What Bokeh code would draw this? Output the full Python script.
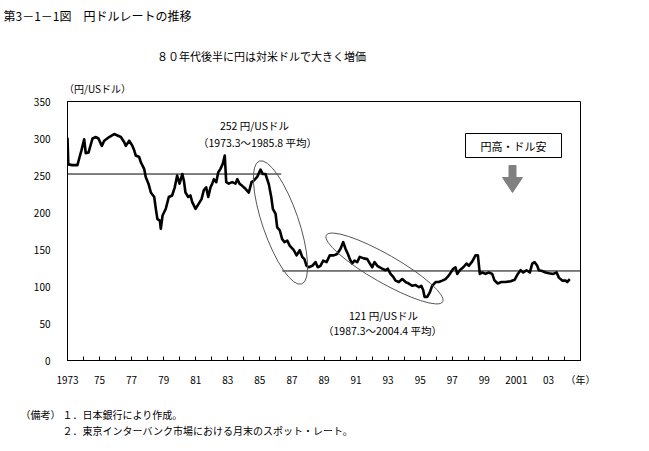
from bokeh.plotting import figure
from bokeh.models import Label, FixedTicker, Range1d
from bokeh.embed import file_html
from bokeh.resources import INLINE

# ---------------- data ----------------
years = [1973.00, 1973.05, 1973.30, 1973.62, 1973.73, 1973.87, 1974.04, 1974.14, 1974.31, 1974.56,
         1974.77, 1974.93, 1975.14, 1975.29, 1975.60, 1975.91, 1976.12, 1976.33, 1976.54, 1976.64,
         1976.85, 1977.05, 1977.16, 1977.26, 1977.47, 1977.57, 1977.78, 1977.88, 1978.05, 1978.20,
         1978.41, 1978.51, 1978.61, 1978.76, 1978.82, 1978.93, 1979.13, 1979.32, 1979.53, 1979.69,
         1979.84, 1979.99, 1980.16, 1980.26, 1980.36, 1980.53, 1980.67, 1980.78, 1980.99, 1981.19,
         1981.36, 1981.50, 1981.65, 1981.78, 1981.92, 1982.03, 1982.13, 1982.28, 1982.40, 1982.54,
         1982.69, 1982.81, 1982.90, 1983.06, 1983.27, 1983.48, 1983.59, 1983.73, 1983.90, 1984.10,
         1984.31, 1984.48, 1984.62, 1984.83, 1985.04, 1985.18, 1985.35, 1985.56, 1985.71, 1985.81,
         1985.98, 1986.08, 1986.24, 1986.39, 1986.54, 1986.71, 1986.87, 1987.12, 1987.29, 1987.49,
         1987.64, 1987.78, 1987.91, 1988.05, 1988.27, 1988.47, 1988.61, 1988.78, 1988.95, 1989.16,
         1989.36, 1989.61, 1989.82, 1990.03, 1990.20, 1990.34, 1990.49, 1990.61, 1990.76, 1990.90,
         1991.07, 1991.23, 1991.48, 1991.70, 1991.86, 1992.01, 1992.15, 1992.32, 1992.48, 1992.63,
         1992.84, 1992.98, 1993.15, 1993.32, 1993.46, 1993.67, 1993.88, 1994.09, 1994.29, 1994.50,
         1994.71, 1994.92, 1995.07, 1995.19, 1995.27, 1995.44, 1995.60, 1995.75, 1995.96, 1996.16,
         1996.38, 1996.58, 1996.79, 1997.06, 1997.20, 1997.31, 1997.47, 1997.69, 1997.89, 1998.04,
         1998.25, 1998.45, 1998.60, 1998.72, 1998.87, 1999.08, 1999.28, 1999.49, 1999.64, 1999.84,
         2000.06, 2000.32, 2000.64, 2000.89, 2001.09, 2001.26, 2001.43, 2001.63, 2001.84, 2001.99,
         2002.13, 2002.30, 2002.40, 2002.61, 2002.82, 2003.03, 2003.30, 2003.51, 2003.65, 2003.86,
         2004.07, 2004.17, 2004.33]
rates = [301, 265, 264, 264, 273, 284, 299, 280, 281, 300,
         302, 300, 290, 297, 302, 306, 304, 302, 295, 290,
         297, 290, 284, 277, 275, 268, 259, 248, 239, 227,
         221, 205, 191, 189, 178, 196, 205, 221, 223, 234,
         250, 239, 252, 243, 227, 221, 223, 214, 205, 212,
         218, 230, 234, 221, 234, 239, 245, 241, 254, 259,
         266, 277, 241, 239, 241, 239, 245, 239, 236, 232,
         227, 241, 243, 248, 258, 252, 252, 238, 221, 205,
         198, 180, 176, 164, 160, 162, 155, 149, 142, 149,
         140, 137, 128, 126, 128, 133, 126, 128, 135, 133,
         142, 142, 144, 151, 160, 151, 144, 137, 131, 135,
         133, 140, 138, 137, 131, 126, 133, 128, 126, 124,
         122, 124, 117, 113, 108, 106, 110, 106, 104, 101,
         102, 99, 101, 95, 86, 86, 92, 101, 106, 106,
         108, 110, 115, 124, 126, 117, 122, 126, 131, 128,
         134, 142, 142, 117, 119, 117, 119, 117, 108, 104,
         106, 106, 107, 109, 117, 122, 119, 122, 119, 131,
         133, 128, 122, 121, 119, 118, 117, 119, 112, 108,
         108, 106, 110]

avg1_value = 252
avg1_span = [1973.0, 1986.33]
avg2_value = 121
avg2_span = [1986.4, 2005.0]

x_ticks = list(range(1973, 2006))
x_tick_labels = {1973: "1973", 1975: "75", 1977: "77", 1979: "79", 1981: "81", 1983: "83",
                 1985: "85", 1987: "87", 1989: "89", 1991: "91", 1993: "93", 1995: "95",
                 1997: "97", 1999: "99", 2001: "2001", 2003: "03", 2005: "（年）"}
y_ticks = [0, 50, 100, 150, 200, 250, 300, 350]

title_text = "第3－1－1図　円ドルレートの推移"
subtitle_text = "８０年代後半に円は対米ドルで大きく増価"
y_unit_text = "（円/USドル）"
avg1_text = ["252 円/USドル", "（1973.3～1985.8 平均）"]
avg2_text = ["121 円/USドル", "（1987.3～2004.4 平均）"]
box_text = "円高・ドル安"
note_head = "（備考）"
notes = ["１．日本銀行により作成。", "２．東京インターバンク市場における月末のスポット・レート。"]

# ---------------- layout (page pixel coordinates) ----------------
W, H = 645, 449
FL, FR, FT, FB = 67, 580, 101, 360   # plot frame on the page
X0, X1, Y0, Y1 = 1973, 2005, 0, 350
FONT = "Noto Sans CJK JP"


def dx(px):
    return X0 + (px - FL) * (X1 - X0) / (FR - FL)


def dy(py):
    return Y0 + (FB - py) * (Y1 - Y0) / (FB - FT)


p = figure(width=W, height=H, output_backend="svg", toolbar_location=None,
           x_range=Range1d(X0, X1), y_range=Range1d(Y0, Y1),
           min_border_left=FL, min_border_right=W - FR,
           min_border_top=FT, min_border_bottom=H - FB)
p.grid.visible = False
p.outline_line_color = "black"
p.outline_line_width = 1
p.background_fill_color = "white"
p.border_fill_color = "white"

xa = p.xaxis[0]
xa.ticker = FixedTicker(ticks=x_ticks)
xa.major_label_overrides = {t: x_tick_labels.get(t, "") for t in x_ticks}
xa.major_tick_in = 4
xa.major_tick_out = 0
xa.minor_tick_in = 0
xa.minor_tick_out = 0
xa.major_label_standoff = 11
xa.axis_line_color = "black"
xa.major_tick_line_color = "black"
xa.major_label_text_font = FONT
xa.major_label_text_font_size = "10px"
xa.major_label_text_color = "black"

ya = p.yaxis[0]
ya.ticker = FixedTicker(ticks=y_ticks)
ya.major_tick_in = 0
ya.major_tick_out = 0
ya.minor_tick_in = 0
ya.minor_tick_out = 0
ya.major_label_standoff = 17
ya.axis_line_color = "black"
ya.major_label_text_font = FONT
ya.major_label_text_font_size = "10px"
ya.major_label_text_color = "black"

# average lines
p.line(avg1_span, [avg1_value, avg1_value], line_color="black", line_width=1)
p.line(avg2_span, [avg2_value, avg2_value], line_color="black", line_width=1)

# exchange rate
p.line(years, rates, line_color="black", line_width=2.6, line_join="round")

# ellipses
p.ellipse(x=[dx(280)], y=[dy(222)], width=[130], height=[36], angle=[-1.24],
          width_units="screen", height_units="screen",
          fill_color=None, line_color="#555555", line_width=1)
p.ellipse(x=[dx(384)], y=[dy(268)], width=[134], height=[28], angle=[-0.52],
          width_units="screen", height_units="screen",
          fill_color=None, line_color="#555555", line_width=1)

# box and arrow
p.quad(left=[dx(465)], right=[dx(561)], top=[dy(133)], bottom=[dy(157)],
       fill_color="white", line_color="black", line_width=1)
ax = [508.5, 515.5, 515.5, 522, 512, 502, 508.5]
ay = [165, 165, 177, 177, 192, 177, 177]
p.patch([dx(v) for v in ax], [dy(v) for v in ay], fill_color="#808080",
        line_color="#808080", line_width=1)


def add_label(text, px, py, size, align="center", place="center"):
    lbl = Label(x=dx(px), y=dy(py), text=text, text_font=FONT, text_font_size=size,
                text_align=align, text_baseline="middle", text_color="black")
    if place == "center":
        p.add_layout(lbl)
    else:
        p.add_layout(lbl, place)


add_label(avg1_text[0], 254, 125, "10.5px")
add_label(avg1_text[1], 257, 142, "10.5px")
add_label(avg2_text[0], 383, 315, "10.5px")
add_label(avg2_text[1], 382, 330, "10.5px")
add_label(box_text, 513, 145, "11px")

# texts outside the frame live in the side panels
add_label(title_text, 3, 15, "12px", "left", "above")
add_label(subtitle_text, 261, 55, "11px", "center", "above")
add_label(y_unit_text, 97, 88, "10px", "center", "above")
add_label(note_head, 20, 414, "10px", "left", "below")
add_label(notes[0], 62, 414, "10px", "left", "below")
add_label(notes[1], 62, 430, "10px", "left", "below")

open("out.html", "w").write(file_html(p, INLINE))
